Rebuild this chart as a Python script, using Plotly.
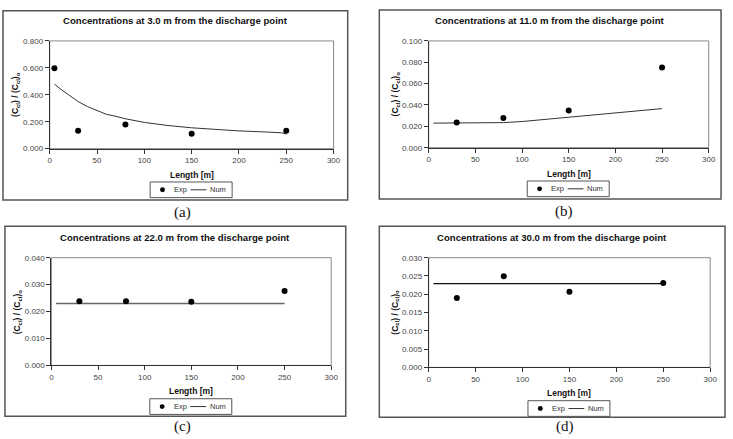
import plotly.graph_objects as go

W, H = 733, 439

# ---------------- data ----------------
titles = ["Concentrations at 3.0 m from the discharge point",
          "Concentrations at 11.0 m from the discharge point",
          "Concentrations at 22.0 m from the discharge point",
          "Concentrations at 30.0 m from the discharge point"]
captions = ["(a)", "(b)", "(c)", "(d)"]

exp_x_a = [5, 30, 80, 150, 250]
exp_y_a = [0.598, 0.133, 0.180, 0.110, 0.133]
num_x_a = [5, 10, 20, 30, 40, 50, 60, 70, 80, 100, 125, 150, 175, 200, 225, 245, 250]
num_y_a = [0.480, 0.450, 0.400, 0.350, 0.312, 0.283, 0.255, 0.240, 0.222, 0.195,
           0.172, 0.155, 0.143, 0.132, 0.125, 0.118, 0.108]

exp_x_b = [30, 80, 150, 250]
exp_y_b = [0.0235, 0.0278, 0.0349, 0.0752]
num_x_b = [5, 30, 50, 75, 80, 100, 125, 150, 175, 200, 225, 250]
num_y_b = [0.0230, 0.0230, 0.0230, 0.0230, 0.0235, 0.0245, 0.0265, 0.0290, 0.0310,
           0.0327, 0.0345, 0.0366]

exp_x_c = [30, 80, 150, 250]
exp_y_c = [0.0238, 0.0238, 0.0236, 0.0276]
num_x_c = [5, 250]
num_y_c = [0.0230, 0.0230]

exp_x_d = [30, 80, 150, 250]
exp_y_d = [0.0190, 0.0249, 0.0207, 0.0231]
num_x_d = [5, 250]
num_y_d = [0.0229, 0.0229]

y_ranges = [[0, 0.8], [0, 0.1], [0, 0.04], [0, 0.03]]
y_dticks = [0.2, 0.02, 0.01, 0.005]
x_range = [0, 300]
x_dtick = 50

# ---------------- layout geometry (pixels) ----------------
# plot areas: x0, x1, ytop, ybottom
areas = [(48.3, 335.7, 37.7, 147.7),
         (432.0, 715.5, 37.7, 146.7),
         (50.0, 333.3, 259.0, 369.0),
         (432.0, 717.0, 259.0, 371.0)]
frames = [(1, 350, 7, 200), (382, 728, 6, 199), (3, 348, 227, 421), (382, 732, 227, 422)]
caption_dy = [13, 13, 10, 9]


def px(x):
    return x / W


def py(y):
    return 1 - y / H


FONT = "Liberation Sans, Arial, sans-serif"

fig = go.Figure()
exps = [(exp_x_a, exp_y_a), (exp_x_b, exp_y_b), (exp_x_c, exp_y_c), (exp_x_d, exp_y_d)]
nums = [(num_x_a, num_y_a), (num_x_b, num_y_b), (num_x_c, num_y_c), (num_x_d, num_y_d)]
line_colors = ["#333333", "#333333", "#666666", "#111111"]
line_widths = [1, 1, 1.6, 1.2]

shapes = []
annotations = []
for i in range(4):
    sfx = "" if i == 0 else str(i + 1)
    xa = "x" + sfx
    ya = "y" + sfx
    x0, x1, yt, yb = areas[i]
    fig.add_trace(go.Scatter(x=nums[i][0], y=nums[i][1], mode="lines",
                             line=dict(color=line_colors[i], width=line_widths[i]),
                             xaxis=xa, yaxis=ya, showlegend=False, name="Num"))
    fig.add_trace(go.Scatter(x=exps[i][0], y=exps[i][1], mode="markers",
                             marker=dict(color="black", size=6),
                             xaxis=xa, yaxis=ya, showlegend=False, name="Exp"))
    axis_common = dict(showgrid=False, zeroline=False, showline=True, linecolor="#333333",
                       linewidth=1, ticks="outside", ticklen=4, tickcolor="#333333",
                       tickfont=dict(family=FONT, size=8, color="#444444"))
    fig.layout["xaxis" + sfx] = dict(domain=[px(x0), px(x1)], range=x_range, dtick=x_dtick,
                                     anchor=ya, **axis_common)
    fig.layout["yaxis" + sfx] = dict(domain=[py(yb), py(yt)], range=y_ranges[i],
                                     dtick=y_dticks[i], tickformat=".3f", anchor=xa,
                                     **axis_common)
    # plot area border (grey top/right)
    shapes.append(dict(type="rect", xref="paper", yref="paper", x0=px(x0), x1=px(x1),
                       y0=py(yb), y1=py(yt), line=dict(color="#888888", width=1), layer="below"))
    # outer frame
    fx0, fx1, fyt, fyb = frames[i]
    shapes.append(dict(type="rect", xref="paper", yref="paper", x0=px(fx0), x1=px(fx1),
                       y0=py(fyb), y1=py(fyt), line=dict(color="#555555", width=1.5)))
    cx = (x0 + x1) / 2
    # title
    annotations.append(dict(text="<b>" + titles[i] + "</b>", xref="paper", yref="paper",
                            x=px((fx0 + fx1) / 2), y=py(yt - 21), xanchor="center",
                            yanchor="middle", showarrow=False,
                            font=dict(family=FONT, size=9.6, color="#111111")))
    # x title
    annotations.append(dict(text="<b>Length [m]</b>", xref="paper", yref="paper",
                            x=px(cx), y=py(yb + 26.5), xanchor="center", yanchor="middle",
                            showarrow=False, font=dict(family=FONT, size=8.5, color="#111111")))
    # y title
    annotations.append(dict(text="<b>(C<sub>cl</sub>) / (C<sub>cl</sub>)<sub>o</sub></b>",
                            xref="paper", yref="paper", x=px(x0 - 34), y=py((yt + yb) / 2),
                            xanchor="center", yanchor="middle", textangle=-90,
                            showarrow=False, font=dict(family=FONT, size=8.5, color="#111111")))
    # legend box
    lx0 = cx - 42
    ly0 = yb + 34
    shapes.append(dict(type="rect", xref="paper", yref="paper", x0=px(lx0), x1=px(lx0 + 83),
                       y0=py(ly0 + 16), y1=py(ly0), line=dict(color="#555555", width=1)))
    lyc = ly0 + 8
    shapes.append(dict(type="circle", xref="paper", yref="paper", x0=px(lx0 + 10),
                       x1=px(lx0 + 15), y0=py(lyc + 2.5), y1=py(lyc - 2.5),
                       fillcolor="black", line=dict(color="black", width=0)))
    annotations.append(dict(text="Exp", xref="paper", yref="paper", x=px(lx0 + 22),
                            y=py(lyc), xanchor="left", yanchor="middle", showarrow=False,
                            font=dict(family=FONT, size=7.5, color="#333333")))
    shapes.append(dict(type="line", xref="paper", yref="paper", x0=px(lx0 + 41),
                       x1=px(lx0 + 57), y0=py(lyc), y1=py(lyc),
                       line=dict(color="#333333", width=1)))
    annotations.append(dict(text="Num", xref="paper", yref="paper", x=px(lx0 + 59),
                            y=py(lyc), xanchor="left", yanchor="middle", showarrow=False,
                            font=dict(family=FONT, size=7.5, color="#333333")))
    # caption
    annotations.append(dict(text=captions[i], xref="paper", yref="paper",
                            x=px(cx - 9 if i % 2 == 0 else cx - 5),
                            y=py(fyb + caption_dy[i]), xanchor="center", yanchor="middle",
                            showarrow=False,
                            font=dict(family="Liberation Serif, Times New Roman, serif",
                                      size=15, color="#111111")))

fig.update_layout(width=W, height=H, margin=dict(l=0, r=0, t=0, b=0),
                  paper_bgcolor="white", plot_bgcolor="white",
                  shapes=shapes, annotations=annotations, showlegend=False)

fig.write_html("out.html")
